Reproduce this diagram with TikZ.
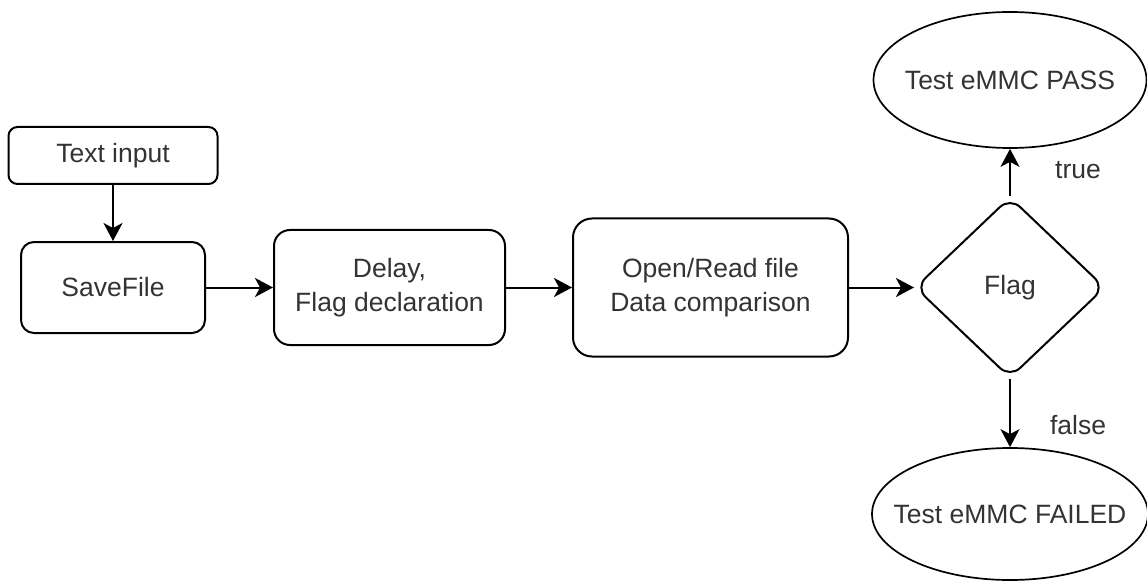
\documentclass[tikz,border=0pt]{standalone}
\usepackage{fontspec}
\setmainfont{Liberation Sans}
\usetikzlibrary{shapes.geometric,arrows.meta}

\tikzset{
  base/.style={draw=black, line width=2pt, text=black!80, align=center,
    font=\fontsize{26.5}{33.5}\selectfont, inner sep=0pt},
  procbox/.style={base, rectangle},
  decision/.style={base, diamond, rounded corners=14pt},
  terminal/.style={base, ellipse, line width=1.7pt},
  flow/.style={line width=2pt, -{Stealth[length=18pt,width=19pt,inset=5pt]}},
  edgetext/.style={text=black!80, font=\fontsize{26.5}{33.5}\selectfont, inner sep=0pt}
}

\begin{document}
\begin{tikzpicture}[x=1pt, y=-1pt]
  \useasboundingbox (0,0) rectangle (1147,585);

  % process boxes
  \node[procbox, rounded corners=9pt, minimum width=209pt, minimum height=57pt]
    (textin) at (113,155.5) {Text input};
  \node[procbox, rounded corners=13pt, minimum width=184pt, minimum height=91pt]
    (save) at (113,287.5) {SaveFile};
  \node[procbox, rounded corners=16pt, minimum width=231pt, minimum height=115pt]
    (delay) at (389.5,287.5) {Delay,\\Flag declaration};
  \node[procbox, rounded corners=19pt, minimum width=275pt, minimum height=138pt]
    (open) at (710.5,287.5) {Open/Read file\\Data comparison};

  % decision
  \node[decision, minimum width=190pt, minimum height=181pt]
    (flag) at (1010,287.5) {Flag};

  % outcomes
  \node[terminal, minimum width=273pt, minimum height=136pt]
    (pass) at (1010,80) {\makebox[0pt]{Test eMMC PASS}};
  \node[terminal, minimum width=276pt, minimum height=132pt]
    (fail) at (1010,514) {\makebox[0pt]{Test eMMC FAILED}};

  % connectors
  \draw[flow] (textin.south) -- (save.north);
  \draw[flow] (save.east) -- (delay.west);
  \draw[flow] (delay.east) -- (open.west);
  \draw[flow] (open.east) -- (flag.west);
  \draw[flow] (flag.north) -- (pass.south);
  \draw[flow] (flag.south) -- (fail.north);

  % branch labels
  \node[edgetext] (truelbl) at (1078,170) {true};
  \node[edgetext] (falselbl) at (1078,425) {false};
\end{tikzpicture}
\end{document}
